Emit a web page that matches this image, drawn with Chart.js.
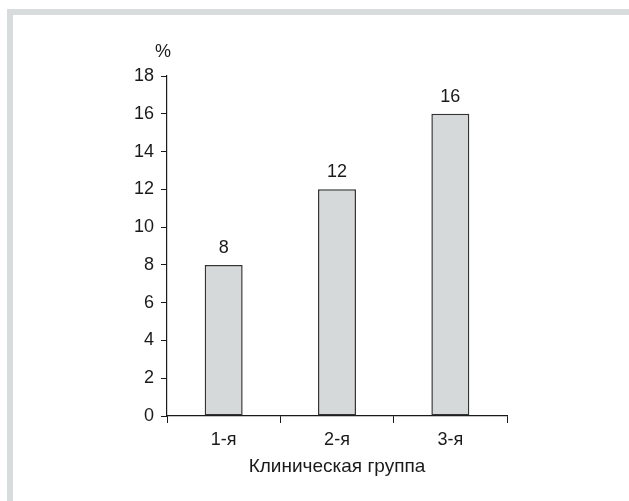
<!DOCTYPE html>
<html>
<head>
<meta charset="utf-8">
<script src="https://cdn.jsdelivr.net/npm/chart.js@4"></script>
<style>
  html, body { margin: 0; padding: 0; background: #fff; }
  #frame {
    position: absolute; left: 7px; top: 9px; right: 0; bottom: 0;
    border-left: 6px solid #d8dcdd; border-top: 6px solid #d8dcdd;
  }
  #wrap { position: absolute; left: 0; top: 0; width: 629px; height: 501px; }
</style>
</head>
<body>
<div id="frame"></div>
<div id="wrap"><canvas id="barChart" width="629" height="501"></canvas></div>
<script>
const groups = ["1-я", "2-я", "3-я"];
const percents = [8, 12, 16];
const yTicks = [0, 2, 4, 6, 8, 10, 12, 14, 16, 18];

const fontFamily = "'Liberation Sans', Arial, sans-serif";
const inkColor = "#1a1a1a";
const textSize = 18;

document.addEventListener("DOMContentLoaded", function () {
    const canvas = document.getElementById("barChart");
    const ctx = canvas.getContext("2d");

    new Chart(ctx, {
        type: "bar",
        data: {
            labels: groups,
            datasets: [
                {
                    label: "%",
                    data: percents,
                    backgroundColor: "#d6d9da",
                    borderColor: "#333333",
                    borderWidth: 1.5,
                    borderSkipped: false,
                    categoryPercentage: 1,
                    barPercentage: 0.335,
                },
            ],
        },
        options: {
            responsive: false,
            animation: false,
            layout: { padding: { left: 0, top: 76, right: 122, bottom: 23 } },
            scales: {
                x: {
                    afterFit: (axis) => { axis.height = 62; },
                    grid: {
                        drawOnChartArea: false,
                        color: inkColor,
                        tickLength: 7,
                        tickColor: inkColor,
                        offset: true,
                    },
                    border: { color: inkColor, width: 1.2 },
                    ticks: {
                        color: inkColor,
                        padding: 6,
                        font: { family: fontFamily, size: textSize },
                    },
                    title: {
                        display: true,
                        text: "Клиническая группа",
                        color: inkColor,
                        font: { family: fontFamily, size: 19 },
                        padding: { top: 4, bottom: 0 },
                    },
                },
                y: {
                    min: 0,
                    max: 18,
                    afterFit: (axis) => { axis.width = 167; },
                    afterBuildTicks: (axis) => {
                        axis.ticks = yTicks.map((v) => ({ value: v }));
                    },
                    grid: {
                        drawOnChartArea: false,
                        color: inkColor,
                        tickLength: 6,
                        tickColor: inkColor,
                    },
                    border: { color: inkColor, width: 1.2 },
                    ticks: {
                        color: inkColor,
                        padding: 7,
                        font: { family: fontFamily, size: textSize },
                    },
                },
            },
            plugins: {
                legend: { display: false },
                tooltip: { enabled: false },
            },
        },
        plugins: [
            {
                id: "valueLabels",
                afterDraw: (chart) => {
                    const c = chart.ctx;
                    const yAxis = chart.scales.y;
                    c.save();
                    c.fillStyle = inkColor;
                    c.font = textSize + "px " + fontFamily;
                    c.textAlign = "center";
                    c.textBaseline = "middle";
                    chart.getDatasetMeta(0).data.forEach((bar, i) => {
                        c.fillText(String(percents[i]), bar.x, bar.y - 17);
                    });
                    // unit label above the y axis
                    c.fillText("%", yAxis.right - 4, yAxis.top - 24);
                    c.restore();
                },
            },
        ],
    });
});
</script>
</body>
</html>
